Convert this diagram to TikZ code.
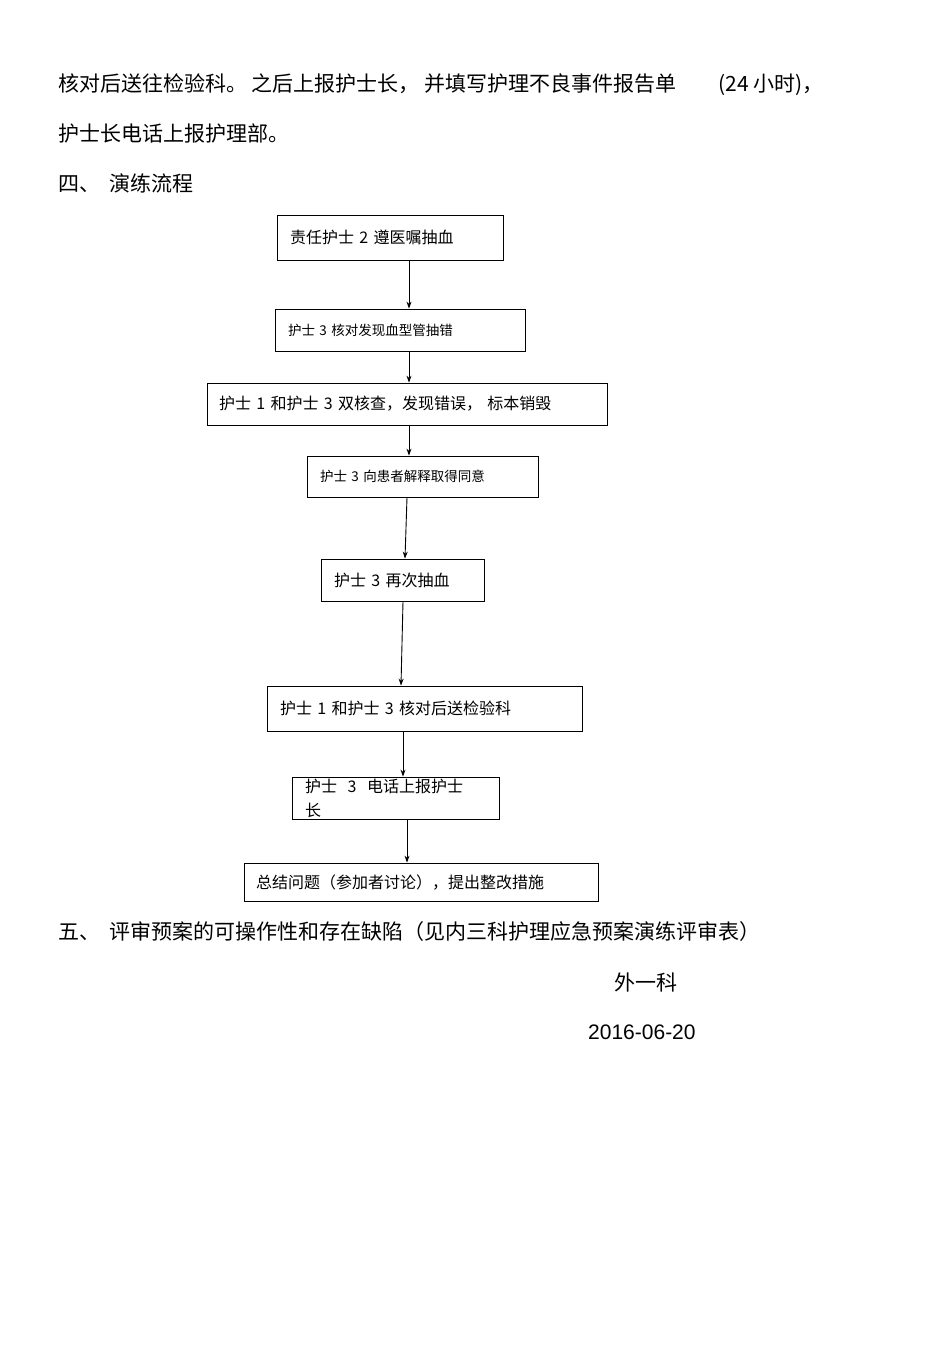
\documentclass[tikz,border=0pt]{standalone}
\usepackage{fontspec}
\newfontfamily\cjk{Noto Sans CJK SC}
\usetikzlibrary{arrows.meta}
\begin{document}
\begin{tikzpicture}[x=1pt,y=-1pt,
  box/.style={draw,line width=0.8pt,inner sep=0pt,font=\cjk\fontsize{16}{20}\selectfont,align=left},
  sbox/.style={box,font=\cjk\fontsize{13.5}{17}\selectfont},
  body/.style={font=\cjk\fontsize{21}{26}\selectfont,anchor=west,inner sep=0pt},
  arr/.style={-{Stealth[length=7pt,width=5pt]},line width=0.9pt}]
\useasboundingbox (0,0) rectangle (950,1345);
\node[body] (t1) at (58,85) {核对后送往检验科。\ 之后上报护士长，\ 并填写护理不良事件报告单\qquad(24\ 小时)，};
\node[body] (t2) at (58,133) {护士长电话上报护理部。};
\node[body] (t3) at (58,183) {四、\ \ 演练流程};
\node[box,minimum width=226pt,minimum height=45pt,text width=200pt] (b1) at (390,237.5) {责任护士 2 遵医嘱抽血};
\node[sbox,minimum width=250pt,minimum height=42pt,text width=224pt] (b2) at (400,330) {护士 3 核对发现血型管抽错};
\node[box,minimum width=400pt,minimum height=42pt,text width=376pt] (b3) at (407,404) {护士 1 和护士 3 双核查，发现错误，\ 标本销毁};
\node[sbox,minimum width=231pt,minimum height=41pt,text width=205pt] (b4) at (422.5,476.5) {护士\ 3 向患者解释取得同意};
\node[box,minimum width=163pt,minimum height=42pt,text width=137pt] (b5) at (402.5,580) {护士 3 再次抽血};
\node[box,minimum width=315pt,minimum height=45pt,text width=289pt] (b6) at (424.5,708.5) {护士 1 和护士\ 3 核对后送检验科};
\node[box,minimum width=207pt,minimum height=42pt,text width=181pt,font=\cjk\fontsize{16}{24}\selectfont] (b7) at (395.5,798) {护士\ \ 3\ \ 电话上报护士\\长};
\node[box,minimum width=354pt,minimum height=38pt,text width=330pt] (b8) at (421,882) {总结问题（参加者讨论），提出整改措施};
\draw[arr] ([xshift=19pt]b1.south) -- ([xshift=9pt]b2.north);
\draw[arr] ([xshift=9pt]b2.south) -- ([xshift=2pt]b3.north);
\draw[arr] ([xshift=2pt]b3.south) -- ([xshift=-13.5pt]b4.north);
\draw[arr] ([xshift=-15.5pt]b4.south) -- ([xshift=2.5pt]b5.north);
\draw[arr] ([xshift=0.5pt]b5.south) -- ([xshift=-23.5pt]b6.north);
\draw[arr] ([xshift=-21.5pt]b6.south) -- ([xshift=7.5pt]b7.north);
\draw[arr] ([xshift=11.5pt]b7.south) -- ([xshift=-14pt]b8.north);
\node[body] (t4) at (58,932) {五、\ \ 评审预案的可操作性和存在缺陷（见内三科护理应急预案演练评审表）};
\node[body] (t5) at (614,982) {外一科};
\node[body,font=\fontspec{Liberation Sans}\fontsize{21}{26}\selectfont] (t6) at (588,1032) {2016-06-20};
\end{tikzpicture}
\end{document}
